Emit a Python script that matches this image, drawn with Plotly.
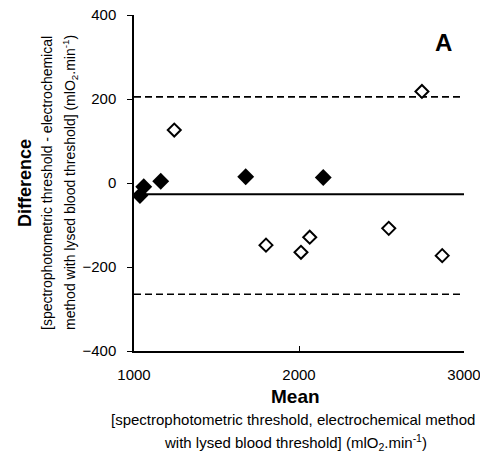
import plotly.graph_objects as go

# Data
filled_x = [1036, 1059, 1162, 1677, 2147]
filled_y = [-30, -9, 4, 15, 13]
open_x = [1244, 1800, 2012, 2065, 2544, 2745, 2868]
open_y = [126, -148, -165, -129, -108, 218, -173]
mean_diff = -27
upper_loa = 205
lower_loa = -265
x_range = [1000, 3000]
y_range = [-400, 400]
x_ticks = [1000, 2000, 3000]
y_ticks = [-400, -200, 0, 200, 400]

font = "Liberation Sans, Arial, sans-serif"
fig = go.Figure()

fig.add_trace(go.Scatter(x=x_range, y=[upper_loa] * 2, mode="lines",
                         line=dict(color="black", width=1.6, dash="7px,4px")))
fig.add_trace(go.Scatter(x=x_range, y=[lower_loa] * 2, mode="lines",
                         line=dict(color="black", width=1.6, dash="7px,4px")))
fig.add_trace(go.Scatter(x=x_range, y=[mean_diff] * 2, mode="lines",
                         line=dict(color="black", width=2)))
fig.add_trace(go.Scatter(x=filled_x, y=filled_y, mode="markers",
                         marker=dict(symbol="diamond", size=13, color="black",
                                     line=dict(color="black", width=0))))
fig.add_trace(go.Scatter(x=open_x, y=open_y, mode="markers",
                         marker=dict(symbol="diamond", size=10, color="white",
                                     line=dict(color="black", width=2))))

# the page body adds an 8px offset, so the figure is 8px smaller on the top-left
fig.update_layout(
    width=480, height=446,
    margin=dict(l=126, r=24, t=7, b=103),
    paper_bgcolor="white", plot_bgcolor="white",
    showlegend=False,
    font=dict(family=font, size=14, color="black"),
    xaxis=dict(range=x_range, tickvals=x_ticks, ticks="inside", ticklen=5,
               showline=True, linecolor="black", linewidth=1.5, showgrid=False,
               zeroline=False, tickfont=dict(size=15), ticklabelstandoff=9,
               tickcolor="black", automargin=False, ticklabeloverflow="allow"),
    yaxis=dict(range=y_range, tickvals=y_ticks, ticks="outside", ticklen=5,
               showline=True, linecolor="black", linewidth=1.5, showgrid=False,
               zeroline=False, tickfont=dict(size=15), ticklabelstandoff=8,
               tickcolor="black", automargin=False, ticklabeloverflow="allow"),
)

ann = [
    dict(text="<b>A</b>", x=1, y=1, xanchor="center",
         yanchor="middle", xshift=-21, yshift=-27, font=dict(size=24)),
    dict(text="<b>Difference</b>", x=0, y=0.5,
         xanchor="center", yanchor="middle", xshift=-109, textangle=-90,
         font=dict(size=18)),
    dict(text="[spectrophotometric threshold - electrochemical", x=0, y=0.5,
         xanchor="center", yanchor="middle",
         xshift=-87, textangle=-90, font=dict(size=14)),
    dict(text="method with lysed blood threshold] (mlO<sub>2</sub>.min<sup>-1</sup>)",
         x=0, y=0.5, xanchor="center",
         yanchor="middle", xshift=-64, textangle=-90, font=dict(size=14)),
    dict(text="<b>Mean</b>", x=0.5, y=0,
         xanchor="center", yanchor="middle", xshift=-4, yshift=-45,
         font=dict(size=19)),
    dict(text="[spectrophotometric threshold, electrochemical method", x=0.5, y=0,
         xanchor="center", yanchor="middle",
         xshift=-6, yshift=-68, font=dict(size=15)),
    dict(text="with lysed blood threshold] (mlO<sub>2</sub>.min<sup>-1</sup>)",
         x=0.5, y=0, xanchor="center",
         yanchor="middle", xshift=-4, yshift=-91, font=dict(size=15)),
]
for a in ann:
    a.update(xref="paper", yref="paper", showarrow=False)
fig.update_layout(annotations=ann)

fig.write_html("out.html")
